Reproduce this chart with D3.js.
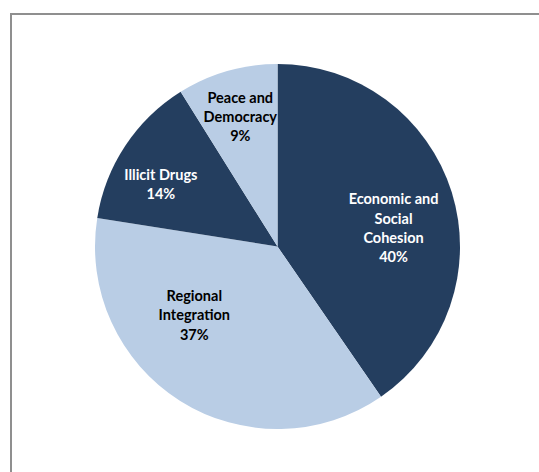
<!DOCTYPE html>
<html>
<head>
<meta charset="utf-8">
<script src="https://cdnjs.cloudflare.com/ajax/libs/d3/7.8.5/d3.min.js"></script>
<style>
  html, body { margin: 0; padding: 0; background: #fff; }
  svg { display: block; }
</style>
</head>
<body>
<script>
// chart data
var categories = ["Economic and Social Cohesion", "Regional Integration", "Illicit Drugs", "Peace and Democracy"];
var labelLines = [["Economic and", "Social", "Cohesion"], ["Regional", "Integration"], ["Illicit Drugs"], ["Peace and", "Democracy"]];
var shares = [40.4, 37.1, 13.6, 8.9];
var percentLabels = ["40%", "37%", "14%", "9%"];

// global layout
var width = 539, height = 472;
var cx = 277.5, cy = 246.5, radius = 182.5;
var dark = "#243e5f", light = "#b9cde5";
var fillColors = [dark, light, dark, light];
var textColors = ["#ffffff", "#000000", "#ffffff", "#000000"];
// where Excel put each label: angle (deg, clockwise from top) and distance from centre
var labelSpot = [[81, 117.5], [230.4, 108], [297.9, 132], [344, 135]];
var lineGap = 19.3;

var svg = d3.select("body").append("svg")
    .attr("width", width)
    .attr("height", height);

// chart area border (runs off the right and bottom edges)
svg.append("rect")
    .attr("x", 11)
    .attr("y", 14)
    .attr("width", 700)
    .attr("height", 700)
    .attr("fill", "none")
    .attr("stroke", "#8f8f8f")
    .attr("stroke-width", 2);

// tail of the clipped title above
svg.append("text")
    .attr("x", 289)
    .attr("y", -3)
    .attr("font-family", "Lato, sans-serif")
    .attr("font-size", 14)
    .attr("font-weight", "bold")
    .attr("fill", "#000")
    .text(",");

var pie = d3.pie().sort(null).value(function(d){ return d; });
var arc = d3.arc().innerRadius(0).outerRadius(radius);

var g = svg.append("g")
    .attr("transform", "translate(" + cx + "," + cy + ")");

var slices = g.selectAll("path")
    .data(pie(shares))
    .enter()
    .append("path")
    .attr("d", arc)
    .attr("fill", function(d, i){ return fillColors[i]; });

var labels = g.selectAll("text.lbl")
    .data(pie(shares))
    .enter()
    .append("text")
    .attr("class", "lbl")
    .attr("text-anchor", "middle")
    .attr("font-family", "Lato, sans-serif")
    .attr("font-size", 14.5)
    .attr("font-weight", "bold")
    .attr("fill", function(d, i){ return textColors[i]; })
    .each(function(d, i){
        var lines = labelLines[i].concat([percentLabels[i]]);
        var p = d3.pointRadial(labelSpot[i][0] * Math.PI / 180, labelSpot[i][1]);
        var top = p[1] - (lines.length - 1) * lineGap / 2;
        var t = d3.select(this);
        for (var k = 0; k < lines.length; k++){
            t.append("tspan")
                .attr("x", p[0])
                .attr("y", top + k * lineGap)
                .attr("dy", "0.35em")
                .text(lines[k]);
        }
    });
</script>
</body>
</html>
